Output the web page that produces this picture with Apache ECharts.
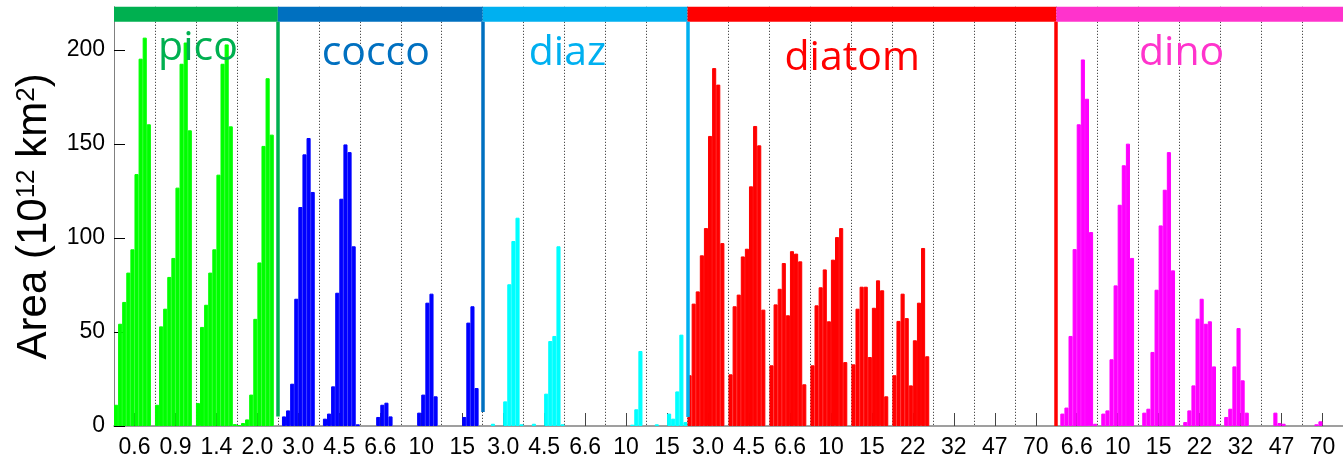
<!DOCTYPE html>
<html>
<head>
<meta charset="utf-8">
<script src="https://cdn.jsdelivr.net/npm/echarts@6/dist/echarts.min.js"></script>
<style>
html,body{margin:0;padding:0;background:#fff;}
#main{width:1343px;height:461px;}
</style>
</head>
<body>
<div id="main"></div>
<script>
// size labels of each group (one label per block of 10 bins)
var picoSizes = ['0.6','0.9','1.4','2.0'];
var coccoSizes = ['3.0','4.5','6.6','10','15'];
var diazSizes = ['3.0','4.5','6.6','10','15'];
var diatomSizes = ['3.0','4.5','6.6','10','15','22','32','47','70'];
var dinoSizes = ['6.6','10','15','22','32','47','70'];

// area per bin (10^12 km^2), 10 bins for every size label
var picoArea = [
    11.3, 54.4, 66, 81.6, 94, 134, 195.4, 206.6, 160.5, 0,
    11.3, 53, 62.4, 79.3, 89.4, 126.8, 192.7, 204, 157.3, 0,
    12.2, 52.7, 64.5, 81.6, 94, 133.7, 192.7, 203, 159.4, 1,
    0.5, 1.6, 3.5, 16.7, 57, 87, 149, 185, 155, 0
];
var coccoArea = [
    0, 5.1, 8.3, 22.5, 67.7, 116.5, 144.5, 153.2, 124.5, 0,
    0, 3.9, 6.6, 21.1, 70.9, 120.9, 149.8, 145.7, 95.6, 0.9,
    0, 0, 0, 0, 4.8, 11.3, 12.4, 5.1, 0, 0,
    0, 0, 0, 0, 7.1, 16.7, 65.6, 70.4, 15.8, 0,
    0, 0, 0, 0, 0, 4.8, 55, 63.7, 20.2, 0
];
var diazArea = [
    0, 0, 1.2, 0, 0, 13.1, 75.4, 98.4, 110.8, 0.9,
    0, 0, 1.2, 0, 0, 17.2, 45.2, 47.9, 95.6, 0.9,
    0, 0, 0, 0, 0, 0, 0, 0, 0, 0,
    0, 0, 0, 0, 0, 0, 0.7, 8.9, 39.9, 0,
    0, 0, 0.9, 0, 0, 6.6, 3.9, 18.4, 48.6, 2.1
];
var diatomArea = [
    27, 65.1, 71.6, 90.8, 105.3, 154.3, 190.4, 181.6, 97.3, 0,
    27.5, 63.7, 69.9, 90.2, 94.3, 127.5, 159.6, 149.3, 61.9, 0,
    32.3, 64.7, 73, 86.7, 58.9, 93, 91.7, 87.6, 22.2, 0,
    32.3, 64.2, 73.8, 83.3, 55.7, 88.5, 100.5, 105.3, 34, 0,
    32.8, 62.4, 74.1, 74.1, 36.7, 62.9, 77.5, 72.2, 15.8, 0,
    27, 55.9, 70.4, 57.4, 21.6, 45.6, 65.6, 94.7, 37.1, 0,
    0, 0, 0, 0, 0, 0, 0, 0, 0, 0,
    0, 0, 0, 0, 0, 0, 0, 0, 0, 0,
    0, 0, 0, 0, 0, 0, 0, 0, 0, 0
];
var dinoArea = [
    0, 6.6, 9.8, 47.9, 94.1, 160.5, 195, 174.1, 103.2, 1.2,
    0, 6.6, 8.3, 35.5, 74.8, 117.7, 138.7, 150.2, 89.4, 0,
    0, 7.1, 9.2, 39.4, 72.5, 106.7, 125.7, 145.7, 82.8, 0,
    0, 2.1, 8.3, 21.6, 57.1, 67.7, 54.4, 55.7, 31.7, 0.9,
    0, 4.8, 9.2, 31.7, 52.1, 24.3, 7.1, 0, 0, 0,
    0, 0, 0, 7.1, 1.6, 1.2, 0, 0, 0, 0,
    0, 0, 0, 0.9, 2.5, 0, 0, 0, 0, 0
];

var binsPerLabel = 10;
var yMax = 223;      // top of the frame, the coloured band sits in 215..223
var bandBottom = 215;

// drawing style of each group
var groups = [
    {name:'pico',   sizes:picoSizes,   area:picoArea,   bar:'#00ff00', tag:'#00b050', tagX:20.5, tagY:201,   lineBottom:5},
    {name:'cocco',  sizes:coccoSizes,  area:coccoArea,  bar:'#0000ff', tag:'#0070c0', tagX:23.9, tagY:198.5, lineBottom:7.4},
    {name:'diaz',   sizes:diazSizes,   area:diazArea,   bar:'#00ffff', tag:'#00b0f0', tagX:20.7, tagY:198.5, lineBottom:4.8},
    {name:'diatom', sizes:diatomSizes, area:diatomArea, bar:'#ff0000', tag:'#ff0000', tagX:40.2, tagY:195.7, lineBottom:0},
    {name:'dino',   sizes:dinoSizes,   area:dinoArea,   bar:'#ff00ff', tag:'#ff33cc', tagX:30.6, tagY:198.5, lineBottom:null}
];

var tickFont = '"Liberation Sans", Arial, sans-serif';

var allSizes = [];
groups.forEach(function(g){ allSizes = allSizes.concat(g.sizes); });
var totalBins = allSizes.length * binsPerLabel;
var binNames = [];
for (var b = 0; b < totalBins; b++) { binNames.push('b' + b); }

var series = [];
var start = 0;
groups.forEach(function(g){
    var end = start + g.sizes.length * binsPerLabel;
    var vals = [];
    for (var i = 0; i < totalBins; i++) {
        var v = (i >= start && i < end) ? g.area[i - start] : 0;
        vals.push(v > 0 ? v : '-');
    }
    // histogram bars, on the 300-bin category axis
    series.push({
        type:'bar',
        name:g.name,
        xAxisIndex:2,
        yAxisIndex:0,
        barGap:'-100%',
        barCategoryGap:'0%',
        itemStyle:{color:g.bar, borderColor:g.bar, borderWidth:1},
        silent:true,
        data:vals
    });
    // band, border line and name of the group, on the continuous bin scale
    var frame = {
        type:'line',
        name:g.name + '-frame',
        xAxisIndex:1,
        yAxisIndex:0,
        silent:true,
        data:[],
        markArea:{
            silent:true,
            itemStyle:{color:g.tag, opacity:1},
            data:[[{xAxis:start, yAxis:bandBottom},{xAxis:end, yAxis:yMax}]]
        },
        markPoint:{
            silent:true,
            symbol:'rect',
            symbolSize:1,
            itemStyle:{color:'rgba(0,0,0,0)'},
            label:{
                show:true,
                position:'inside',
                formatter:g.name,
                color:g.tag,
                fontSize:41,
                fontFamily:'"Open Sans", "Noto Sans", sans-serif'
            },
            data:[{coord:[start + g.tagX, g.tagY]}]
        }
    };
    if(g.lineBottom !== null){
        frame.markLine = {
            silent:true,
            symbol:['none','none'],
            label:{show:false},
            lineStyle:{color:g.tag, width:3.5, type:'solid'},
            data:[[{coord:[end, g.lineBottom]},{coord:[end, bandBottom]}]]
        };
    }
    series.push(frame);
    start = end;
});

var chart = echarts.init(document.getElementById('main'));
chart.setOption({
    animation:false,
    backgroundColor:'#ffffff',
    grid:{left:114, right:0, top:6.8, bottom:35, outerBoundsMode:'none'},
    xAxis:[
        {   // labels and dotted block borders
            type:'category',
            data:allSizes,
            boundaryGap:true,
            axisLine:{show:true, lineStyle:{color:'#808080', width:1.5}},
            axisTick:{show:true, inside:true, length:13, alignWithLabel:true, lineStyle:{color:'#444'}},
            axisLabel:{
                interval:0,
                margin:10,
                color:'#000',
                fontSize:23,
                fontFamily:tickFont
            },
            splitLine:{show:true, lineStyle:{color:'#222', width:1, type:[1,2]}}
        },
        {   // continuous bin scale for the group frames
            type:'value',
            min:0,
            max:totalBins,
            show:false
        },
        {   // one category per histogram bin
            type:'category',
            data:binNames,
            boundaryGap:true,
            show:false
        }
    ],
    yAxis:{
        type:'value',
        min:0,
        max:yMax,
        interval:50,
        name:'{a|Area (10}{s|12}{a| km}{s|2}{a|)}',
        nameLocation:'middle',
        nameRotate:90,
        nameGap:56,
        nameTextStyle:{
            rich:{
                a:{fontSize:42, fontFamily:'"Liberation Sans", Arial, sans-serif', color:'#000'},
                s:{fontSize:26, fontFamily:'"Liberation Sans", Arial, sans-serif', color:'#000', verticalAlign:'top'}
            }
        },
        axisLine:{show:true, lineStyle:{color:'#808080', width:1}},
        axisTick:{show:true, inside:true, length:11, lineStyle:{color:'#000'}},
        axisLabel:{
            showMaxLabel:false,
            margin:9,
            color:'#000',
            fontSize:23,
            fontFamily:tickFont
        },
        splitLine:{show:false}
    },
    series:series
});
</script>
</body>
</html>
